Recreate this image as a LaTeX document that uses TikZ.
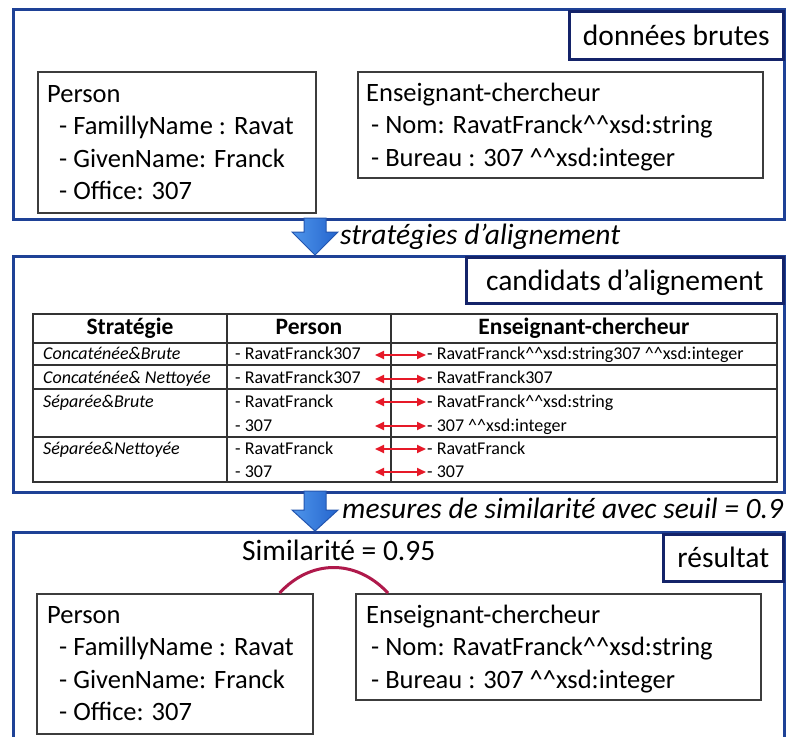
\documentclass[tikz,border=0pt]{standalone}
\usepackage{fontspec}
\setmainfont{Carlito}
\usetikzlibrary{arrows.meta,calc}
\definecolor{outerblue}{RGB}{30,65,150}
\definecolor{labelnavy}{RGB}{20,35,105}
\definecolor{boxgray}{RGB}{60,60,60}
\definecolor{arrowlight}{RGB}{80,150,235}
\definecolor{arrowdark}{RGB}{35,100,205}
\definecolor{arrowedge}{RGB}{35,85,175}
\definecolor{linkred}{RGB}{175,25,75}
\definecolor{tabred}{RGB}{230,25,40}
\newcommand{\crt}{\textasciicircum\textasciicircum}
\begin{document}
\begin{tikzpicture}[x=1pt,y=-1pt,
  outerbox/.style={draw=outerblue,line width=2.6pt,inner sep=0pt,anchor=north west},
  labelbox/.style={draw=labelnavy,fill=white,line width=2.6pt,inner sep=0pt,anchor=north west,
      text height=24pt,text depth=4pt,font=\fontsize{29.5}{36}\selectfont},
  innerbox/.style={draw=boxgray,line width=1.6pt,inner sep=0pt,anchor=north west},
  boxtext/.style={inner sep=0pt,anchor=north west,align=left,font=\fontsize{26.5}{32.5}\selectfont},
  caption/.style={inner sep=0pt,anchor=base west,font=\fontsize{29.5}{36}\selectfont\itshape},
  simtext/.style={inner sep=0pt,anchor=base west,font=\fontsize{29.5}{36}\selectfont},
  thead/.style={inner sep=0pt,anchor=base,font=\fontsize{23.5}{28}\selectfont\bfseries},
  tcell/.style={inner sep=0pt,anchor=base west,font=\fontsize{18}{22}\selectfont},
  tstrat/.style={tcell,font=\fontsize{18}{22}\selectfont\itshape},
  tabline/.style={draw=black!80,line width=1.3pt},
  matcharrow/.style={draw=tabred,line width=1.8pt,{Triangle[length=9pt,width=8pt]}-{Triangle[length=9pt,width=8pt]}},
  bluearrow/.style={draw=arrowedge,line width=1pt,left color=arrowlight,right color=arrowdark},
  simlink/.style={draw=linkred,line width=3pt}
]
\useasboundingbox (0,0) rectangle (789,736);
\fill[white] (0,0) rectangle (789,736);

% ---------- outer boxes ----------
\node[outerbox,minimum width=771pt,minimum height=210pt] (box1) at (12,8) {};
\node[outerbox,minimum width=771pt,minimum height=236pt] (box2) at (12,255) {};
\node[outerbox,minimum width=771pt,minimum height=212pt] (box3) at (12,531) {};

% ---------- label boxes ----------
\node[labelbox,minimum width=214pt,minimum height=48pt] (lab1) at (568,10) {données brutes};
\node[labelbox,minimum width=317pt,minimum height=46pt] (lab2) at (465,256) {candidats d’alignement};
\node[labelbox,minimum width=120pt,minimum height=47pt] (lab3) at (662,533) {résultat};

% ---------- raw data ----------
\node[innerbox,minimum width=278pt,minimum height=141pt] (p1) at (37,71) {};
\node[innerbox,minimum width=405pt,minimum height=106pt] (e1) at (357,71) {};
\node[boxtext] (p1t) at (47,80) {\rule{0pt}{22pt}Person\\
  \hspace*{12pt}- FamillyName : Ravat\\
  \hspace*{12pt}- GivenName: Franck\\
  \hspace*{12pt}- Office: 307};
\node[boxtext] (e1t) at (366,79) {\rule{0pt}{22pt}Enseignant-chercheur\\
  \hspace*{5pt}- Nom: RavatFranck\crt xsd:string\\
  \hspace*{5pt}- Bureau : 307 \crt xsd:integer};

% ---------- captions ----------
\node[caption] (cap1) at (340,244) {stratégies d'alignement};
\node[caption] (cap2) at (342,518) {mesures de similarité avec seuil = 0.9};

% ---------- table ----------
\draw[tabline] (33,314) rectangle (777,482);
\draw[tabline] (227,314) -- (227,482);
\draw[tabline] (391,314) -- (391,482);
\draw[tabline] (33,343) -- (777,343);
\draw[tabline] (33,365) -- (777,365);
\draw[tabline] (33,389) -- (777,389);
\draw[tabline] (33,437) -- (777,437);

\node[thead] (h1) at (130,334) {Stratégie};
\node[thead] (h2) at (309,334) {Person};
\node[thead] (h3) at (584,334) {Enseignant-chercheur};

\node[tstrat] (s1) at (43,359) {Concaténée\&Brute};
\node[tstrat] (s2) at (43,383) {Concaténée\& Nettoyée};
\node[tstrat] (s3) at (43,407) {Séparée\&Brute};
\node[tstrat] (s4) at (43,454) {Séparée\&Nettoyée};

\node[tcell] (c1) at (235,359) {- RavatFranck307};
\node[tcell] (c2) at (235,383) {- RavatFranck307};
\node[tcell] (c3) at (235,407) {- RavatFranck};
\node[tcell] (c4) at (235,431) {- 307};
\node[tcell] (c5) at (235,454) {- RavatFranck};
\node[tcell] (c6) at (235,477) {- 307};

\node[tcell] (d1) at (427,359) {- RavatFranck\crt xsd:string307 \crt xsd:integer};
\node[tcell] (d2) at (427,383) {- RavatFranck307};
\node[tcell] (d3) at (427,407) {- RavatFranck\crt xsd:string};
\node[tcell] (d4) at (427,431) {- 307 \crt xsd:integer};
\node[tcell] (d5) at (427,454) {- RavatFranck};
\node[tcell] (d6) at (427,477) {- 307};

\foreach \i/\y in {1/355,2/379,3/402,4/426,5/449,6/472}{
  \coordinate (ml\i) at (375,\y);
  \coordinate (mr\i) at (426,\y);
  \draw[matcharrow] (ml\i) -- (mr\i);
}

% ---------- result ----------
\node[innerbox,minimum width=276pt,minimum height=140pt] (p3) at (36,593) {};
\node[innerbox,minimum width=405pt,minimum height=106pt] (e3) at (355,593) {};
\node[boxtext] (p3t) at (47,601) {\rule{0pt}{22pt}Person\\
  \hspace*{12pt}- FamillyName : Ravat\\
  \hspace*{12pt}- GivenName: Franck\\
  \hspace*{12pt}- Office: 307};
\node[boxtext] (e3t) at (366,601) {\rule{0pt}{22pt}Enseignant-chercheur\\
  \hspace*{5pt}- Nom: RavatFranck\crt xsd:string\\
  \hspace*{5pt}- Bureau : 307 \crt xsd:integer};
\node[simtext] (sim) at (242,560) {Similarité = 0.95};

\coordinate (arcA) at ($(p3.north east)+(-34,0)$);
\coordinate (arcB) at ($(e3.north west)+(33,0)$);
\draw[simlink] (arcA) .. controls (310,560) and (355,558) .. (arcB);

% ---------- block arrows ----------
\coordinate (a1top) at (315,218);
\coordinate (a1tip) at (315,255);
\path[bluearrow] ($(a1top)+(-11,0)$) -- ($(a1top)+(11,0)$) -- ($(a1tip)+(11,-23)$)
  -- ($(a1tip)+(23,-23)$) -- (a1tip) -- ($(a1tip)+(-23,-23)$) -- ($(a1tip)+(-11,-23)$) -- cycle;
\coordinate (a2top) at (315,491);
\coordinate (a2tip) at (315,531);
\path[bluearrow] ($(a2top)+(-11,0)$) -- ($(a2top)+(11,0)$) -- ($(a2tip)+(11,-21)$)
  -- ($(a2tip)+(23,-21)$) -- (a2tip) -- ($(a2tip)+(-23,-21)$) -- ($(a2tip)+(-11,-21)$) -- cycle;
\end{tikzpicture}
\end{document}
